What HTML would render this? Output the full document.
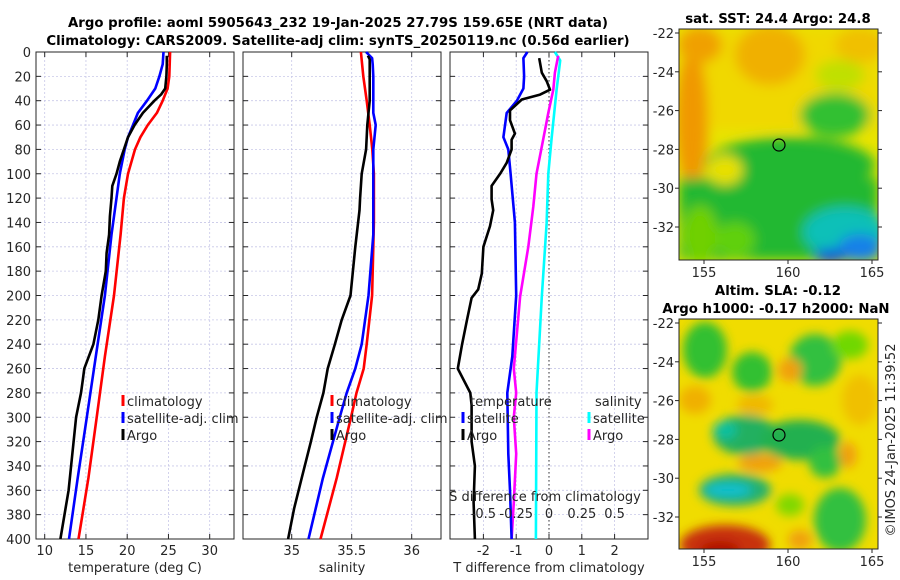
<!DOCTYPE html>
<html><head><meta charset="utf-8">
<style>
html,body{margin:0;padding:0;background:#fff;}
svg{display:block;font-family:"DejaVu Sans","Liberation Sans",sans-serif;}
.t{font-size:13px;fill:#262626;}
.ti{font-size:13.3px;font-weight:bold;fill:#000;}
</style></head>
<body>
<svg id="chart" width="900" height="580" viewBox="0 0 900 580" xmlns="http://www.w3.org/2000/svg">
<defs>
<filter id="blur1" x="-50%" y="-50%" width="200%" height="200%"><feGaussianBlur stdDeviation="6"/></filter>
<filter id="blur2" x="-50%" y="-50%" width="200%" height="200%"><feGaussianBlur stdDeviation="5"/></filter>
<clipPath id="clipm1"><rect x="679" y="29" width="199" height="231"/></clipPath>
<clipPath id="clipm2"><rect x="679" y="319" width="199" height="230"/></clipPath>
</defs>
<text class="ti" x="338" y="27" text-anchor="middle">Argo profile: aoml 5905643_232 19-Jan-2025 27.79S 159.65E (NRT data)</text>
<text class="ti" x="338" y="45" text-anchor="middle">Climatology: CARS2009. Satellite-adj clim: synTS_20250119.nc (0.56d earlier)</text>
<g id="p1"></g>
<g id="p2"></g>
<g id="p3"></g>

<g>
 <text class="ti" x="778" y="23" text-anchor="middle">sat. SST: 24.4 Argo: 24.8</text>
 <g clip-path="url(#clipm1)">
  <rect x="679" y="29" width="199" height="231" fill="#e8e400"/>
  <g filter="url(#blur1)">
   <rect x="679" y="29" width="199" height="100" fill="#f0d800"/>
   <ellipse cx="692" cy="120" rx="16" ry="70" fill="#f09800"/>
   <ellipse cx="700" cy="45" rx="22" ry="18" fill="#f0a000"/>
   <ellipse cx="770" cy="55" rx="35" ry="30" fill="#f0b000"/>
   <ellipse cx="860" cy="45" rx="25" ry="18" fill="#f0c000"/>
   <ellipse cx="835" cy="115" rx="35" ry="22" fill="#30c030"/>
   <ellipse cx="840" cy="75" rx="25" ry="15" fill="#c0e000"/>
   <rect x="679" y="178" width="199" height="82" fill="#20b830"/>
   <ellipse cx="790" cy="165" rx="85" ry="28" fill="#20b830"/>
   <ellipse cx="725" cy="170" rx="18" ry="15" fill="#e8e000"/>
   <ellipse cx="700" cy="235" rx="18" ry="30" fill="#70d000"/>
   <ellipse cx="735" cy="240" rx="20" ry="18" fill="#60d010"/>
   <ellipse cx="845" cy="232" rx="42" ry="25" fill="#10c0b8"/>
   <ellipse cx="860" cy="248" rx="22" ry="14" fill="#1880e8"/>
   <ellipse cx="830" cy="256" rx="16" ry="7" fill="#1050e0"/>
  </g>
 </g>
 <rect x="679" y="29" width="199" height="231" fill="none" stroke="#262626" stroke-width="1"/>
 <circle cx="779" cy="145" r="6" fill="none" stroke="#000" stroke-width="1.2"/>
 <g id="m1ticks"></g>
</g>

<g>
 <text class="ti" x="778" y="295" text-anchor="middle">Altim. SLA: -0.12</text>
 <text class="ti" x="776" y="313" text-anchor="middle">Argo h1000: -0.17 h2000: NaN</text>
 <g clip-path="url(#clipm2)">
  <rect x="679" y="319" width="199" height="230" fill="#f0dc00"/>
  <g filter="url(#blur2)">
   <ellipse cx="705" cy="350" rx="22" ry="28" fill="#30c030"/>
   <ellipse cx="752" cy="372" rx="20" ry="20" fill="#30c030"/>
   <ellipse cx="815" cy="360" rx="26" ry="26" fill="#30c040"/>
   <ellipse cx="850" cy="345" rx="18" ry="14" fill="#70d800"/>
   <ellipse cx="745" cy="435" rx="32" ry="20" fill="#20b060"/>
   <ellipse cx="725" cy="430" rx="12" ry="9" fill="#10c0a0"/>
   <ellipse cx="800" cy="440" rx="40" ry="20" fill="#20b050"/>
   <ellipse cx="825" cy="462" rx="16" ry="16" fill="#30c040"/>
   <ellipse cx="735" cy="490" rx="36" ry="16" fill="#20b070"/>
   <ellipse cx="728" cy="490" rx="24" ry="7" fill="#10c0d0"/>
   <ellipse cx="840" cy="520" rx="26" ry="32" fill="#30c040"/>
   <ellipse cx="790" cy="505" rx="14" ry="11" fill="#80d800"/>
   <ellipse cx="725" cy="545" rx="45" ry="20" fill="#c83010"/>
   <ellipse cx="720" cy="550" rx="20" ry="9" fill="#b01000"/>
   <ellipse cx="790" cy="370" rx="12" ry="12" fill="#f0a010"/>
   <ellipse cx="760" cy="463" rx="22" ry="9" fill="#f0a010"/>
   <ellipse cx="848" cy="455" rx="9" ry="13" fill="#f0a010"/>
   <ellipse cx="695" cy="400" rx="16" ry="14" fill="#f0b000"/>
   <ellipse cx="800" cy="540" rx="12" ry="10" fill="#f0a010"/>
   <ellipse cx="755" cy="405" rx="18" ry="10" fill="#f0b800"/>
   <ellipse cx="860" cy="400" rx="18" ry="25" fill="#f0c000"/>
  </g>
 </g>
 <rect x="679" y="319" width="199" height="230" fill="none" stroke="#262626" stroke-width="1"/>
 <circle cx="779" cy="435" r="6" fill="none" stroke="#000" stroke-width="1.2"/>
 <g id="m2ticks"></g>
</g>
<text class="t" transform="translate(895,440) rotate(-90)" text-anchor="middle">©IMOS 24-Jan-2025 11:39:52</text>
</svg>
<script>
// ---- data ----
const depthTicks = [0,20,40,60,80,100,120,140,160,180,200,220,240,260,280,300,320,340,360,380,400];
const tTicks = [10,15,20,25,30];
const sTicks = [35,35.5,36];
const sTickLabels = ['35','35.5','36'];
const dTTicks = [-2,-1,0,1,2];
const dSTicks = [-0.5,-0.25,0,0.25,0.5];
const dSTickLabels = ['-0.5','-0.25','0','0.25','0.5'];

const tClimDepth = [0,10,20,30,40,50,60,70,80,100,120,150,200,250,300,350,400];
const tClim = [25.2,25.15,25.1,24.9,24.3,23.6,22.5,21.6,20.95,20.1,19.6,19.2,18.4,17.3,16.3,15.3,14.1];
const tSatDepth = [0,10,20,30,40,50,60,70,80,100,120,150,200,250,300,350,400];
const tSat = [24.4,24.3,23.9,23.4,22.4,21.3,20.7,20.1,19.7,19.1,18.7,18.1,17.3,16.2,15.1,14.0,12.95];
const tArgoDepth = [3,10,20,30,35,40,50,60,70,80,90,100,110,120,135,150,165,180,200,220,240,260,270,280,300,320,340,360,380,400];
const tArgo = [24.8,24.8,24.75,24.6,24.1,23.3,21.9,20.9,20.1,19.6,19.1,18.7,18.2,18.1,17.9,17.8,17.5,17.4,16.9,16.5,15.9,14.8,14.6,14.4,13.8,13.5,13.2,12.9,12.4,11.9];

const sClimDepth = [0,20,40,60,80,100,140,160,200,240,260,280,300,350,400];
const sClim = [35.577,35.597,35.625,35.65,35.672,35.685,35.685,35.68,35.67,35.625,35.6,35.54,35.494,35.375,35.24];
const sSatDepth = [0,5,10,20,50,60,80,150,200,240,260,280,300,350,400];
const sSat = [35.62,35.67,35.675,35.68,35.68,35.70,35.68,35.68,35.64,35.583,35.53,35.458,35.40,35.26,35.14];
const sArgoDepth = [3,6,10,40,50,60,80,100,120,130,160,200,220,240,260,280,300,320,350,375,400];
const sArgo = [35.635,35.65,35.65,35.65,35.64,35.63,35.62,35.583,35.57,35.565,35.53,35.49,35.417,35.36,35.30,35.264,35.208,35.16,35.083,35.02,34.97];

const dTSatDepth = [0,5,20,30,40,50,70,80,100,140,200,250,280,330,360,400];
const dTSat = [-0.66,-0.78,-0.76,-0.78,-0.98,-1.29,-1.39,-1.24,-1.17,-1.04,-1.0,-1.12,-1.27,-1.24,-1.19,-1.14];
const dTArgoDepth = [5,17,24,31,35,39,48,56,67,72,80,91,100,110,121,130,143,160,182,195,202,220,240,260,280,290,320,340,370,400];
const dTArgo = [-0.3,-0.22,-0.07,0.03,-0.27,-0.83,-1.19,-1.19,-1.04,-1.14,-1.14,-1.29,-1.49,-1.75,-1.75,-1.70,-1.80,-2.0,-2.05,-2.16,-2.36,-2.5,-2.65,-2.78,-2.4,-2.36,-2.36,-2.26,-2.3,-2.26];
const dSSatDepth = [0,7,31,71,100,141,201,280,400];
const dSSat = [0.045,0.085,0.058,0.02,-0.005,-0.018,-0.055,-0.095,-0.1];
const dSArgoDepth = [3,17,31,50,71,100,127,160,201,260,280,300,330,370,400];
const dSArgo = [0.07,0.045,0.033,-0.005,-0.043,-0.095,-0.12,-0.158,-0.22,-0.268,-0.25,-0.268,-0.25,-0.268,-0.285];

const lonTicks = [155,160,165];
const latTicks = [-22,-24,-26,-28,-30,-32];

// ---- helpers ----
const NS='http://www.w3.org/2000/svg';
function mk(tag,attrs,parent){const e=document.createElementNS(NS,tag);for(const k in attrs)e.setAttribute(k,attrs[k]);parent.appendChild(e);return e;}
const Y0=52,Y1=539;
function yD(d){return Y0+(d/400)*(Y1-Y0);}
function lin(d0,d1,r0,r1){return v=>r0+(v-d0)/(d1-d0)*(r1-r0);}

function panel(g,x0,x1,xs,xt,xl,ylabels,xlabel){
  depthTicks.forEach(d=>{const l=mk('line',{x1:x0,x2:x1,y1:yD(d),y2:yD(d),stroke:'#c8c8e8','stroke-width':0.8,'stroke-dasharray':'2,2'},g);
    });
  xt.forEach(v=>{const l=mk('line',{x1:xs(v),x2:xs(v),y1:Y0,y2:Y1,stroke:'#c8c8e8','stroke-width':0.8,'stroke-dasharray':'2,2'},g);
    });
  const r=mk('rect',{x:x0,y:Y0,width:x1-x0,height:Y1-Y0,fill:'none',stroke:'#262626','stroke-width':1},g);
  
  depthTicks.forEach(d=>{
    mk('line',{x1:x0,x2:x0+5,y1:yD(d),y2:yD(d),stroke:'#262626'},g);
    mk('line',{x1:x1-5,x2:x1,y1:yD(d),y2:yD(d),stroke:'#262626'},g);
    if(ylabels){const t=mk('text',{x:x0-5,y:yD(d)+5,'text-anchor':'end',class:'t'},g);t.textContent=d;
      }
  });
  xt.forEach((v,i)=>{
    mk('line',{x1:xs(v),x2:xs(v),y1:Y1,y2:Y1-5,stroke:'#262626'},g);
    mk('line',{x1:xs(v),x2:xs(v),y1:Y0,y2:Y0+5,stroke:'#262626'},g);
    const t=mk('text',{x:xs(v),y:Y1+16,'text-anchor':'middle',class:'t'},g);t.textContent=xl[i];
    
  });
  const xlab=mk('text',{x:(x0+x1)/2,y:572,'text-anchor':'middle',class:'t'},g);xlab.textContent=xlabel;
  
}
function line(g,xs,vals,depths,color,name){
  const p=vals.map((v,i)=>xs(v).toFixed(1)+','+yD(depths[i]).toFixed(1)).join(' ');
  const e=mk('polyline',{points:p,fill:'none',stroke:color,'stroke-width':2.6,'stroke-linejoin':'round'},g);
  
  
}
function legend(g,x,y,items){
  items.forEach((it,i)=>{
    mk('line',{x1:x,x2:x,y1:y+i*17-11,y2:y+i*17,stroke:it[1],'stroke-width':3},g);
    const t=mk('text',{x:x+4,y:y+i*17,class:'t','font-size':'14px'},g);t.textContent=it[0];
    
  });
}

const g1=document.getElementById('p1');
const xT=lin(10,30,44.7,209.7);
panel(g1,36,234,xT,tTicks,tTicks.map(String),true,'temperature (deg C)');
line(g1,xT,tClim,tClimDepth,'#ff0000','temp-climatology-line');
line(g1,xT,tSat,tSatDepth,'#0000ff','temp-satellite-line');
line(g1,xT,tArgo,tArgoDepth,'#000000','temp-argo-line');
legend(g1,123,406,[['climatology','#ff0000'],['satellite-adj. clim','#0000ff'],['Argo','#000000']]);

const g2=document.getElementById('p2');
const xS=lin(35,36,291.7,411.7);
panel(g2,243,441,xS,sTicks,sTickLabels,false,'salinity');
line(g2,xS,sClim,sClimDepth,'#ff0000','sal-climatology-line');
line(g2,xS,sSat,sSatDepth,'#0000ff','sal-satellite-line');
line(g2,xS,sArgo,sArgoDepth,'#000000','sal-argo-line');
legend(g2,332,406,[['climatology','#ff0000'],['satellite-adj. clim','#0000ff'],['Argo','#000000']]);

const g3=document.getElementById('p3');
const xdT=lin(0,1,549,581.8);
const xdS=lin(0,0.25,549,581.8);
panel(g3,450,648,xdT,dTTicks,dTTicks.map(String),false,'T difference from climatology');
const z=mk('line',{x1:xdT(0),x2:xdT(0),y1:Y0,y2:Y1,stroke:'#555','stroke-width':1.2,'stroke-dasharray':'1.5,2.5'},g3);

line(g3,xdS,dSSat,dSSatDepth,'#00ffff','dsal-satellite-line');
line(g3,xdS,dSArgo,dSArgoDepth,'#ff00ff','dsal-argo-line');
line(g3,xdT,dTSat,dTSatDepth,'#0000ff','dtemp-satellite-line');
line(g3,xdT,dTArgo,dTArgoDepth,'#000000','dtemp-argo-line');
dSTicks.forEach((v,i)=>{const t=mk('text',{x:xdS(v),y:518,'text-anchor':'middle',class:'t','font-size':'14px'},g3);t.textContent=dSTickLabels[i];
  });
const st=mk('text',{x:545,y:501,'text-anchor':'middle',class:'t','font-size':'14px'},g3);st.textContent='S difference from climatology';

const lt=mk('text',{x:470,y:406,class:'t','font-size':'14px'},g3);lt.textContent='temperature';

legend(g3,463,423,[['satellite','#0000ff'],['Argo','#000000']]);
const ls=mk('text',{x:595,y:406,class:'t','font-size':'14px'},g3);ls.textContent='salinity';

legend(g3,589,423,[['satellite','#00ffff'],['Argo','#ff00ff']]);

function mapTicks(id,x0,x1,y0,y1,latTop){
  const g=document.getElementById(id);
  const xl=lin(155,165,704,872);
  const yl=lin(-22,-32,latTop,latTop+194);
  lonTicks.forEach(v=>{mk('line',{x1:xl(v),x2:xl(v),y1:y1,y2:y1+4,stroke:'#262626'},g);
    const t=mk('text',{x:xl(v),y:y1+17,'text-anchor':'middle',class:'t'},g);t.textContent=v;
    });
  latTicks.forEach(v=>{mk('line',{x1:x0-4,x2:x0,y1:yl(v),y2:yl(v),stroke:'#262626'},g);
    mk('line',{x1:x1,x2:x1+4,y1:yl(v),y2:yl(v),stroke:'#262626'},g);
    const t=mk('text',{x:x0-5,y:yl(v)+5,'text-anchor':'end',class:'t'},g);t.textContent=v;
    });
}
mapTicks('m1ticks',679,878,29,260,33);
mapTicks('m2ticks',679,878,319,549,323);
</script>
</body></html>
